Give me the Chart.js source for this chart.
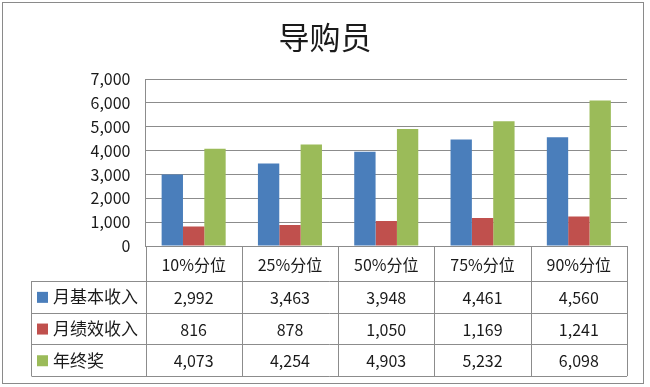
<!DOCTYPE html>
<html>
<head>
<meta charset="utf-8">
<script src="https://cdn.jsdelivr.net/npm/chart.js@4.4.0/dist/chart.umd.min.js"></script>
<style>
    body { margin: 0; background: #ffffff; }
    #wrap { width: 650px; height: 387px; }
</style>
</head>
<body>
<div id="wrap"><canvas id="salaryChart" width="650" height="387"></canvas></div>
<script>
// Chart data
const chartTitle = '导购员';
const categories = ['10%分位', '25%分位', '50%分位', '75%分位', '90%分位'];
const seriesNames = ['月基本收入', '月绩效收入', '年终奖'];
const monthlyBase = [2992, 3463, 3948, 4461, 4560];
const monthlyPerformance = [816, 878, 1050, 1169, 1241];
const yearBonus = [4073, 4254, 4903, 5232, 6098];
const yTicks = [0, 1000, 2000, 3000, 4000, 5000, 6000, 7000];

const seriesColors = ['#4A7EBB', '#C0504D', '#9BBB59'];
const fontFamily = '"Noto Sans CJK SC", "Noto Sans", sans-serif';
const lineColor = '#8C8C8C';

// Draws the title, the data table under the plot and the outer frame
const dataTablePlugin = {
    id: 'dataTable',
    afterDraw(chart) {
        const ctx = chart.ctx;
        const x = chart.scales.x;
        const area = chart.chartArea;
        const n = categories.length;
        const colWidth = (x.right - x.left) / n;
        const headerTop = area.bottom;
        const headerBottom = headerTop + 35;
        const rowHeight = 31.7;
        const tableLeft = 31.5;
        const tableBottom = headerBottom + rowHeight * chart.data.datasets.length;

        ctx.save();

        // title, centred on the whole frame
        ctx.fillStyle = '#1a1a1a';
        ctx.font = '31px ' + fontFamily;
        ctx.textAlign = 'center';
        ctx.textBaseline = 'middle';
        ctx.fillText(chartTitle, 325, 37);

        ctx.strokeStyle = lineColor;
        ctx.lineWidth = 1;

        // horizontal lines
        ctx.beginPath();
        ctx.moveTo(x.left, Math.round(headerTop) + 0.5);
        ctx.lineTo(x.right, Math.round(headerTop) + 0.5);
        for (let r = 0; r <= chart.data.datasets.length; r++) {
            const yy = Math.round(headerBottom + r * rowHeight) + 0.5;
            ctx.moveTo(tableLeft, yy);
            ctx.lineTo(x.right, yy);
        }
        // vertical lines
        for (let c = 0; c <= n; c++) {
            const xx = Math.round(x.left + c * colWidth) + 0.5;
            ctx.moveTo(xx, headerTop);
            ctx.lineTo(xx, tableBottom);
        }
        ctx.moveTo(tableLeft, headerBottom);
        ctx.lineTo(tableLeft, tableBottom);
        ctx.stroke();

        ctx.font = '16px ' + fontFamily;

        // header: category names
        categories.forEach((cat, i) => {
            ctx.fillText(cat, x.getPixelForValue(i), (headerTop + headerBottom) / 2 + 1);
        });

        // rows: legend key, name and values
        chart.data.datasets.forEach((ds, r) => {
            const cy = headerBottom + r * rowHeight + rowHeight / 2;
            ctx.fillStyle = ds.backgroundColor;
            ctx.fillRect(37, cy - 5, 11, 11);
            ctx.fillStyle = '#1a1a1a';
            ctx.textAlign = 'left';
            ctx.font = '17px ' + fontFamily;
            ctx.fillText(ds.label, 53, cy);
            ctx.textAlign = 'center';
            ctx.font = '16px ' + fontFamily;
            ds.data.forEach((v, i) => {
                ctx.fillText(v.toLocaleString('en-US'), x.getPixelForValue(i), cy + 1);
            });
        });

        // outer frame
        ctx.strokeStyle = '#8A8A8A';
        ctx.strokeRect(2.5, 2.5, 641, 381);
        ctx.restore();
    }
};

const ctx = document.getElementById('salaryChart').getContext('2d');

window.salaryChart = new Chart(ctx, {
    type: 'bar',
    data: {
        labels: categories,
        datasets: [
            { label: seriesNames[0], data: monthlyBase, backgroundColor: seriesColors[0] },
            { label: seriesNames[1], data: monthlyPerformance, backgroundColor: seriesColors[1] },
            { label: seriesNames[2], data: yearBonus, backgroundColor: seriesColors[2] }
        ]
    },
    options: {
        responsive: false,
        animation: false,
        layout: {
            padding: { left: 0, right: 23, top: 79, bottom: 141 }
        },
        datasets: {
            bar: {
                barPercentage: 1.0,
                categoryPercentage: 0.665
            }
        },
        plugins: {
            legend: { display: false },
            tooltip: { enabled: false },
            title: { display: false }
        },
        scales: {
            x: {
                display: false
            },
            y: {
                min: 0,
                max: 7000,
                afterFit: function(scale) {
                    scale.width = 145.5;
                },
                afterBuildTicks: function(scale) {
                    scale.ticks = yTicks.map(v => ({ value: v }));
                },
                border: { display: true, color: lineColor, width: 1 },
                grid: {
                    color: lineColor,
                    drawTicks: false
                },
                ticks: {
                    padding: 15,
                    color: '#1a1a1a',
                    font: { family: fontFamily, size: 16 },
                    callback: function(value) {
                        return value.toLocaleString('en-US');
                    }
                }
            }
        }
    },
    plugins: [dataTablePlugin]
});
</script>
</body>
</html>
